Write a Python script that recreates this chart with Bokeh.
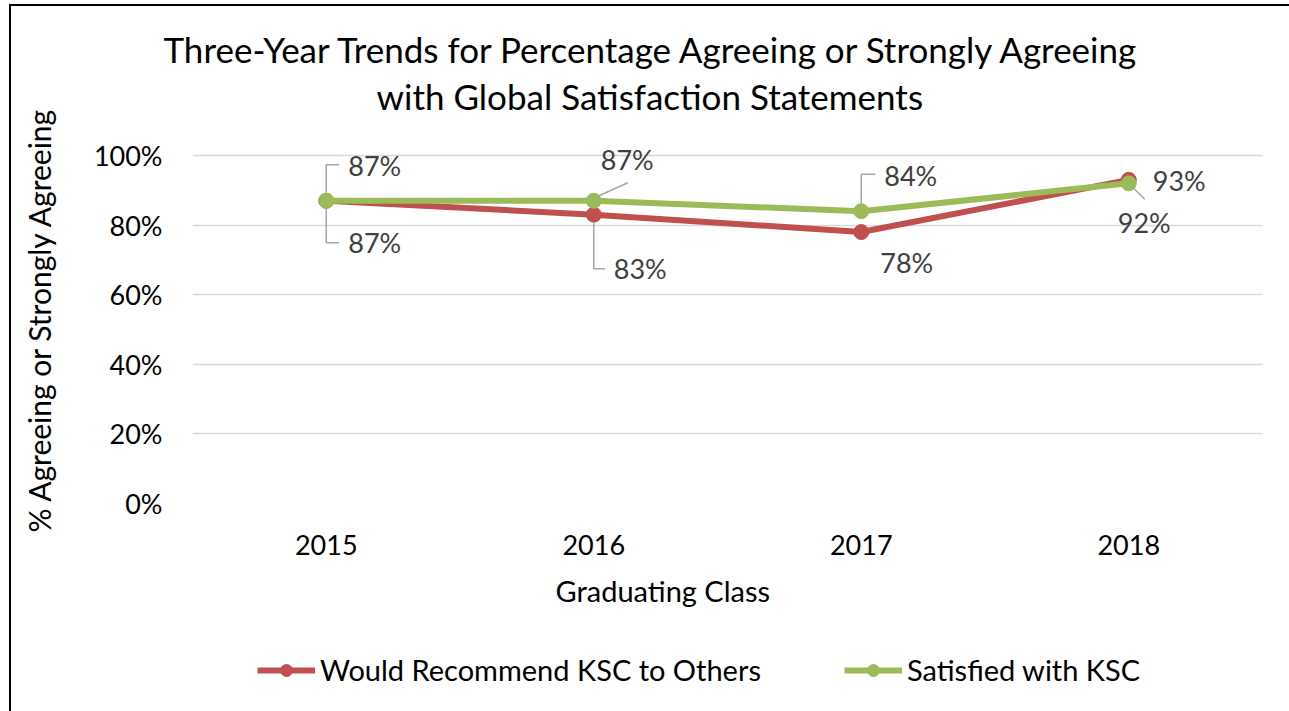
from bokeh.plotting import figure
from bokeh.layouts import column
from bokeh.models import (FactorRange, Range1d, FixedTicker, NumeralTickFormatter, Title,
                          Legend, LegendItem, ColumnDataSource)
from bokeh.embed import file_html
from bokeh.resources import INLINE
from bokeh.core.properties import value

# ---------------- data ----------------
years = ["2015", "2016", "2017", "2018"]
recommend = [0.87, 0.83, 0.78, 0.93]
satisfied = [0.87, 0.87, 0.84, 0.92]
series_names = ["Would Recommend KSC to Others", "Satisfied with KSC"]
y_ticks = [0.0, 0.2, 0.4, 0.6, 0.8, 1.0]
title_lines = ["Three-Year Trends for Percentage Agreeing or Strongly Agreeing",
               "with Global Satisfaction Statements"]
x_title = "Graduating Class"
y_title = "% Agreeing or Strongly Agreeing"

# ---------------- styling / layout ----------------
FONT = "Lato"
RED = "#c0504d"
GREEN = "#9bbb59"
LABEL_COL = "#404040"
LEADER_COL = "#a6a6a6"
OX, OY = 11, 6                                   # canvas origin on the page
SPLIT = 640                                      # page row where legend strip starts
W = 1289 - OX
H1 = SPLIT - OY
H2 = 711 - SPLIT
FL, FR = 192 - OX, 1262 - OX                     # frame x edges (canvas px)
Y1, Y0 = 155 - OY, 503 - OY                      # pixel rows of 100% and 0%
PX_X = (FR - FL) / len(years)
PX_Y = (Y0 - Y1) / 1.0
TOP_PAD = 20                                     # extra frame above 100% (px)
FT = Y1 - TOP_PAD

# data-label offsets (px) from each point: (dx, dy) ; dy positive = down
rec_lab_off = [(22, 42), (20, 54), (19, 30), (24, 1)]
sat_lab_off = [(22, -35), (7, -41), (23, -36), (-11, 39)]
# leader lines as px offsets from the point
rec_leaders = [[(0, 8), (0, 42), (13, 42)], [(0, 8), (0, 54), (11, 54)], None, None]
sat_leaders = [[(0, -8), (0, -36), (13, -36)], [(3, -4), (34, -18)],
               [(0, -8), (0, -37), (14, -37)], [(3, 3), (16, 16)]]

p = figure(width=W, height=H1, x_range=FactorRange(*years, range_padding=0),
           y_range=Range1d(0, 1 + TOP_PAD / PX_Y), output_backend="svg",
           toolbar_location=None, min_border_left=FL, min_border_right=W - FR,
           min_border_top=FT, min_border_bottom=H1 - Y0)
p.outline_line_color = None
p.background_fill_color = "white"
p.border_fill_color = "white"

# grid
p.xgrid.grid_line_color = None
p.ygrid.grid_line_color = "#d9d9d9"
p.ygrid.grid_line_width = 1.5
p.ygrid.ticker = FixedTicker(ticks=y_ticks)

# axes
for ax in (p.xaxis[0], p.yaxis[0]):
    ax.axis_line_color = None
    ax.major_tick_line_color = None
    ax.minor_tick_line_color = None
    ax.major_tick_out = 0
    ax.major_tick_in = 0
    ax.major_label_text_font = FONT
    ax.major_label_text_font_size = "27px"
    ax.major_label_text_color = "#000000"
    ax.axis_label_text_font = FONT
    ax.axis_label_text_font_size = "30px"
    ax.axis_label_text_font_style = "normal"
    ax.axis_label_text_color = "#000000"
p.yaxis.ticker = FixedTicker(ticks=y_ticks)
p.yaxis.formatter = NumeralTickFormatter(format="0%")
p.yaxis.major_label_standoff = 30
p.yaxis.axis_label = y_title
p.yaxis.axis_label_standoff = 34
p.xaxis.major_label_standoff = 31

# lines
xs = [i + 0.5 for i in range(len(years))]
src_r = ColumnDataSource(dict(x=years, y=recommend))
src_s = ColumnDataSource(dict(x=years, y=satisfied))
p.line("x", "y", source=src_r, line_color=RED, line_width=6, line_join="round")
p.scatter("x", "y", source=src_r, size=15, fill_color=RED, line_color=RED)
p.line("x", "y", source=src_s, line_color=GREEN, line_width=6, line_join="round")
p.scatter("x", "y", source=src_s, size=15, fill_color=GREEN, line_color=GREEN)

# leader lines
lx, ly = [], []
for vals, leaders in ((recommend, rec_leaders), (satisfied, sat_leaders)):
    for i, (v, path) in enumerate(zip(vals, leaders)):
        if path is None:
            continue
        lx.append([xs[i] + dx / PX_X for dx, dy in path])
        ly.append([v - dy / PX_Y for dx, dy in path])
p.multi_line(lx, ly, line_color=LEADER_COL, line_width=1.5)

# data labels
for vals, offs in ((recommend, rec_lab_off), (satisfied, sat_lab_off)):
    src = ColumnDataSource(dict(x=years, y=vals, t=[f"{round(v*100)}%" for v in vals],
                                xo=[o[0] for o in offs], yo=[o[1] for o in offs]))
    p.text("x", "y", text="t", source=src, x_offset="xo", y_offset="yo",
           text_font=value(FONT), text_font_size="27px", text_color=LABEL_COL,
           text_align="left", text_baseline="middle")


def make_title(text, offset, standoff, size):
    try:
        return Title(text=text, align="left", offset=offset, standoff=standoff,
                     text_font=FONT, text_font_size=size, text_font_style="normal",
                     text_color="#000000")
    except Exception:
        return Title(text=text, align="left", offset=offset, standoff=0,
                     text_font=FONT, text_font_size=size, text_font_style="normal",
                     text_color="#000000")


# chart title: two lines above the frame (nearest first)
p.add_layout(make_title(title_lines[1], 376 - 192, 37, "35px"), "above")
p.add_layout(make_title(title_lines[0], 163 - 192, -31, "35px"), "above")

# x-axis title (below axis)
p.add_layout(make_title(x_title, 555 - 192, 26, "29px"), "below")

# ---------------- legend strip ----------------
p2 = figure(width=W, height=H2, x_range=Range1d(10, 11), y_range=Range1d(10, 11),
            output_backend="svg", toolbar_location=None, min_border=0,
            x_axis_type=None, y_axis_type=None)
p2.outline_line_color = None
p2.background_fill_color = "white"
p2.border_fill_color = "white"
xi = list(range(len(years)))
l_r = p2.line(xi, recommend, line_color=RED, line_width=6)
m_r = p2.scatter(xi, recommend, size=14, fill_color=RED, line_color=RED)
l_s = p2.line(xi, satisfied, line_color=GREEN, line_width=6)
m_s = p2.scatter(xi, satisfied, size=14, fill_color=GREEN, line_color=GREEN)
legend = Legend(items=[LegendItem(label=series_names[0], renderers=[l_r, m_r]),
                       LegendItem(label=series_names[1], renderers=[l_s, m_s])],
                orientation="horizontal", location=(257 - 192, 24), glyph_width=58,
                glyph_height=30, label_height=30, label_standoff=5, spacing=83,
                padding=0, margin=0, border_line_color=None, background_fill_alpha=0,
                label_text_font=FONT, label_text_font_size="29px",
                label_text_color="#000000")
p2.add_layout(legend, "center")

layout = column(p, p2, spacing=0)
layout.styles = {"margin-left": f"{OX - 2}px", "margin-top": f"{OY - 2}px",
                 "border-left": "2px solid #000000", "border-top": "2px solid #000000",
                 "border-right": "none", "border-bottom": "none",
                 "outline": "none", "box-shadow": "none"}

open("out.html", "w").write(file_html(layout, INLINE))
